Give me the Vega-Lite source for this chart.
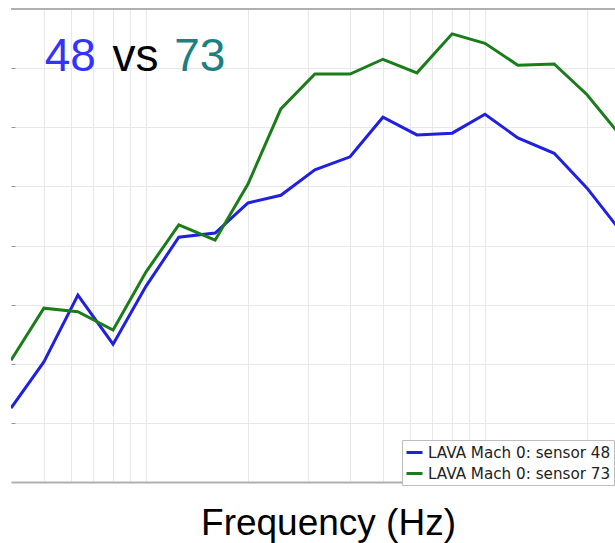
{
  "$schema": "https://vega.github.io/schema/vega-lite/v6.json",
  "width": 604,
  "height": 473,
  "autosize": {"type": "none"},
  "padding": {"left": 11, "top": 9, "right": 0, "bottom": 61},
  "background": "white",
  "config": {"view": {"stroke": null}},
  "datasets": {
    "spectra": [
      {"series": "LAVA Mach 0: sensor 48", "freq": 4, "level": 1.25},
      {"series": "LAVA Mach 0: sensor 48", "freq": 5, "level": 2.03},
      {"series": "LAVA Mach 0: sensor 48", "freq": 6.3, "level": 3.16},
      {"series": "LAVA Mach 0: sensor 48", "freq": 8, "level": 2.33},
      {"series": "LAVA Mach 0: sensor 48", "freq": 10, "level": 3.31},
      {"series": "LAVA Mach 0: sensor 48", "freq": 12.5, "level": 4.14},
      {"series": "LAVA Mach 0: sensor 48", "freq": 16, "level": 4.21},
      {"series": "LAVA Mach 0: sensor 48", "freq": 20, "level": 4.72},
      {"series": "LAVA Mach 0: sensor 48", "freq": 25, "level": 4.85},
      {"series": "LAVA Mach 0: sensor 48", "freq": 31.5, "level": 5.28},
      {"series": "LAVA Mach 0: sensor 48", "freq": 40, "level": 5.5},
      {"series": "LAVA Mach 0: sensor 48", "freq": 50, "level": 6.17},
      {"series": "LAVA Mach 0: sensor 48", "freq": 63, "level": 5.87},
      {"series": "LAVA Mach 0: sensor 48", "freq": 80, "level": 5.9},
      {"series": "LAVA Mach 0: sensor 48", "freq": 100, "level": 6.22},
      {"series": "LAVA Mach 0: sensor 48", "freq": 125, "level": 5.82},
      {"series": "LAVA Mach 0: sensor 48", "freq": 160, "level": 5.56},
      {"series": "LAVA Mach 0: sensor 48", "freq": 200, "level": 4.97},
      {"series": "LAVA Mach 0: sensor 48", "freq": 250, "level": 4.26},
      {"series": "LAVA Mach 0: sensor 73", "freq": 4, "level": 2.06},
      {"series": "LAVA Mach 0: sensor 73", "freq": 5, "level": 2.94},
      {"series": "LAVA Mach 0: sensor 73", "freq": 6.3, "level": 2.88},
      {"series": "LAVA Mach 0: sensor 73", "freq": 8, "level": 2.57},
      {"series": "LAVA Mach 0: sensor 73", "freq": 10, "level": 3.55},
      {"series": "LAVA Mach 0: sensor 73", "freq": 12.5, "level": 4.35},
      {"series": "LAVA Mach 0: sensor 73", "freq": 16, "level": 4.09},
      {"series": "LAVA Mach 0: sensor 73", "freq": 20, "level": 5.04},
      {"series": "LAVA Mach 0: sensor 73", "freq": 25, "level": 6.31},
      {"series": "LAVA Mach 0: sensor 73", "freq": 31.5, "level": 6.9},
      {"series": "LAVA Mach 0: sensor 73", "freq": 40, "level": 6.9},
      {"series": "LAVA Mach 0: sensor 73", "freq": 50, "level": 7.15},
      {"series": "LAVA Mach 0: sensor 73", "freq": 63, "level": 6.92},
      {"series": "LAVA Mach 0: sensor 73", "freq": 80, "level": 7.58},
      {"series": "LAVA Mach 0: sensor 73", "freq": 100, "level": 7.42},
      {"series": "LAVA Mach 0: sensor 73", "freq": 125, "level": 7.05},
      {"series": "LAVA Mach 0: sensor 73", "freq": 160, "level": 7.07},
      {"series": "LAVA Mach 0: sensor 73", "freq": 200, "level": 6.55},
      {"series": "LAVA Mach 0: sensor 73", "freq": 250, "level": 5.87}
    ]
  },
  "layer": [
    {
      "data": {"name": "spectra"},
      "mark": {"type": "line", "clip": true, "strokeWidth": 3},
      "encoding": {
        "x": {
          "field": "freq",
          "type": "quantitative",
          "scale": {"type": "log", "domain": [4, 241.8], "nice": false},
          "axis": {
            "values": [5, 6, 7, 8, 9, 10, 20, 30, 40, 50, 60, 70, 80, 90, 100, 200],
            "labels": false,
            "ticks": false,
            "grid": true,
            "gridColor": "#e8e8e8",
            "domainColor": "#b0b0b0",
            "domainWidth": 2,
            "title": "Frequency (Hz)",
            "titleFont": "Liberation Sans",
            "titleFontSize": 37,
            "titleFontWeight": "normal",
            "titleColor": "black",
            "titleX": 317,
            "titleY": 52,
            "titleBaseline": "alphabetic",
            "titleAlign": "center"
          }
        },
        "y": {
          "field": "level",
          "type": "quantitative",
          "scale": {"domain": [0, 8], "nice": false},
          "axis": {
            "values": [1, 2, 3, 4, 5, 6, 7],
            "labels": false,
            "domain": false,
            "ticks": true,
            "tickSize": -4,
            "tickColor": "#999999",
            "grid": true,
            "gridColor": "#e8e8e8",
            "title": null
          }
        },
        "color": {
          "field": "series",
          "type": "nominal",
          "scale": {
            "domain": ["LAVA Mach 0: sensor 48", "LAVA Mach 0: sensor 73"],
            "range": ["#2020e0", "#1a7d1a"]
          },
          "legend": {
            "orient": "none",
            "legendX": 391,
            "legendY": 431,
            "title": null,
            "symbolType": "stroke",
            "symbolStrokeWidth": 3,
            "symbolSize": 256,
            "labelFont": "DejaVu Sans",
            "labelFontSize": 15.2,
            "labelColor": "#222222",
            "labelLimit": 400,
            "labelOffset": 4,
            "rowPadding": 3,
            "padding": 3,
            "strokeColor": "#bdbdbd",
            "fillColor": "white"
          }
        }
      }
    },
    {
      "data": {"values": [{}]},
      "mark": {"type": "rule", "color": "#b0b0b0", "strokeWidth": 2},
      "encoding": {"y": {"datum": 8, "type": "quantitative"}}
    },
    {
      "data": {"values": [{}]},
      "mark": {"type": "text", "text": "48", "font": "Liberation Sans", "fontSize": 46, "color": "#3333ff", "align": "left", "baseline": "alphabetic"},
      "encoding": {"x": {"datum": 5.03, "type": "quantitative"}, "y": {"datum": 6.95, "type": "quantitative"}}
    },
    {
      "data": {"values": [{}]},
      "mark": {"type": "text", "text": "vs", "font": "Liberation Sans", "fontSize": 46, "color": "black", "align": "left", "baseline": "alphabetic"},
      "encoding": {"x": {"datum": 7.97, "type": "quantitative"}, "y": {"datum": 6.95, "type": "quantitative"}}
    },
    {
      "data": {"values": [{}]},
      "mark": {"type": "text", "text": "73", "font": "Liberation Sans", "fontSize": 46, "color": "#1a8080", "align": "left", "baseline": "alphabetic"},
      "encoding": {"x": {"datum": 12.12, "type": "quantitative"}, "y": {"datum": 6.95, "type": "quantitative"}}
    }
  ]
}
